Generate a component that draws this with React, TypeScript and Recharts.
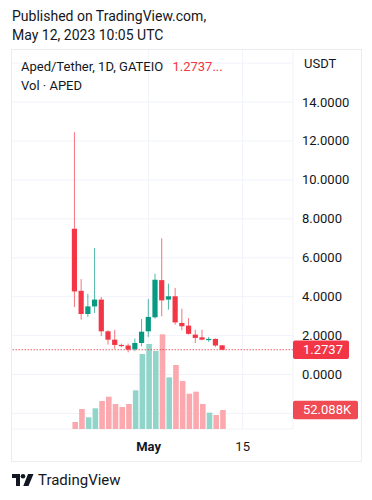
import React from 'react';
import { ComposedChart, Bar, Cell, XAxis, YAxis, CartesianGrid, ReferenceLine } from 'recharts';

// daily slots shown on the time axis
const days = [
  'Apr 11', 'Apr 12', 'Apr 13', 'Apr 14', 'Apr 15', 'Apr 16', 'Apr 17', 'Apr 18', 'Apr 19', 'Apr 20',
  'Apr 21', 'Apr 22', 'Apr 23', 'Apr 24', 'Apr 25', 'Apr 26', 'Apr 27', 'Apr 28', 'Apr 29', 'Apr 30',
  'May 1', 'May 2', 'May 3', 'May 4', 'May 5', 'May 6', 'May 7', 'May 8', 'May 9', 'May 10',
  'May 11', 'May 12', 'May 13', 'May 14', 'May 15', 'May 16', 'May 17', 'May 18', 'May 19', 'May 20',
  'May 21', 'May 22',
];

// days that have a candle
const candleDays = [
  'Apr 20', 'Apr 21', 'Apr 22', 'Apr 23', 'Apr 24', 'Apr 25', 'Apr 26', 'Apr 27', 'Apr 28', 'Apr 29',
  'Apr 30', 'May 1', 'May 2', 'May 3', 'May 4', 'May 5', 'May 6', 'May 7', 'May 8', 'May 9',
  'May 10', 'May 11', 'May 12',
];

const opens = [7.49, 4.3, 3.11, 3.5, 3.85, 2.22, 1.79, 1.52, 1.49, 1.3, 1.62, 2.22, 2.94, 4.85, 3.85, 4.02, 2.65, 2.51, 2.05, 1.91, 1.79, 1.83, 1.5];
const highs = [12.45, 4.9, 4.15, 6.5, 3.98, 2.27, 2.3, 1.59, 1.59, 1.85, 2.85, 3.88, 5.18, 7.0, 4.67, 4.45, 3.38, 2.9, 2.3, 2.3, 1.93, 1.85, 1.52];
const lows = [3.47, 2.82, 2.96, 3.16, 1.97, 1.54, 1.32, 1.4, 1.14, 1.2, 1.45, 1.93, 2.87, 2.99, 3.33, 2.56, 2.27, 2.05, 1.62, 1.76, 1.68, 1.42, 1.25];
const closes = [4.27, 3.11, 3.5, 3.85, 2.22, 1.79, 1.52, 1.5, 1.28, 1.62, 2.2, 2.96, 4.87, 3.81, 4.02, 2.68, 2.48, 2.09, 1.88, 1.79, 1.83, 1.49, 1.2737];
// volume in thousands of APED
const volumes = [19.2, 54.8, 32, 56.7, 76.7, 88.6, 68.5, 60.3, 68.5, 106, 205.6, 233, 213.8, 259.5, 141.6, 175.4, 131.6, 96.8, 102.3, 68.5, 44.8, 38.4, 52.088];

const priceTicks = [-2, 0, 2, 4, 6, 8, 10, 12, 14, 16];
const timeTicks = ['May 1', 'May 15'];
const timeLabels: Record<string, string> = { 'May 1': 'May', 'May 15': '15' };

const lastPrice = 1.2737;
const lastVolume = 52.088;

const UP = '#089981';
const DOWN = '#f23645';
const VOL_UP = '#91d5ca';
const VOL_DOWN = '#fba8af';
const TEXT = '#131722';
const FONT = 'Roboto, "Noto Sans", sans-serif';

const rows = days.map((day) => {
  const i = candleDays.indexOf(day);
  if (i < 0) return { day };
  return {
    day,
    open: opens[i],
    high: highs[i],
    low: lows[i],
    close: closes[i],
    range: [lows[i], highs[i]],
    volume: volumes[i],
  };
});

function Candle(props: any) {
  const { x, y, width, height, payload } = props;
  if (!payload || payload.open == null) return null;
  const { open, high, low, close } = payload;
  const top = Math.min(y, y + height);
  const bottom = Math.max(y, y + height);
  const toY = (v: number) => top + ((high - v) / (high - low)) * (bottom - top);
  const color = close >= open ? UP : DOWN;
  const cx = x + width / 2;
  const bodyTop = toY(Math.max(open, close));
  const bodyBottom = toY(Math.min(open, close));
  return (
    <g>
      <line x1={cx} x2={cx} y1={top} y2={bottom} stroke={color} strokeOpacity={0.7} strokeWidth={1} />
      <rect x={cx - 2.6} width={5.2} y={bodyTop} height={Math.max(1.2, bodyBottom - bodyTop)} fill={color} />
    </g>
  );
}

function PriceTick(props: any) {
  const { y, payload } = props;
  const v = payload.value;
  const label = v === 16 ? 'USDT' : v < 0 ? '' : v.toFixed(4);
  return (
    <text x={v === 16 ? 293 : 291} y={y} dy={4.5} fontSize={13} fill={TEXT} textAnchor="start" fontFamily={FONT}>
      {label}
    </text>
  );
}

function TimeTick(props: any) {
  const { x, payload } = props;
  const bold = payload.value === 'May 1';
  return (
    <text x={x} y={401.5} fontSize={13} fill={TEXT} textAnchor="middle" fontWeight={bold ? 700 : 400} fontFamily={FONT}>
      {timeLabels[payload.value]}
    </text>
  );
}

function PriceBadge(color: string, text: string, w: number) {
  return (props: any) => {
    const vb = props.viewBox || {};
    const left = vb.x + vb.width;
    return (
      <g>
        <rect x={left} y={vb.y - 9.3} width={w} height={18.6} rx={2} fill={color} />
        <text x={left + 10} y={vb.y} dy={4.5} fontSize={13} fill="#ffffff" fontFamily={FONT}>
          {text}
        </text>
      </g>
    );
  };
}

function Logo() {
  return (
    <svg width={22} height={12} viewBox="0 0 22 12">
      <path d="M0 0h8v12H4V4H0z" fill={TEXT} />
      <circle cx={11} cy={2.3} r={2.3} fill={TEXT} />
      <path d="M16 0h5.5l-5 12h-5.2z" fill={TEXT} />
    </svg>
  );
}

export default function App() {
  return (
    <div
      style={{
        position: 'absolute',
        left: 0,
        top: 0,
        width: 372,
        height: 500,
        background: '#ffffff',
        fontFamily: FONT,
        color: TEXT,
      }}
    >
      <div style={{ position: 'absolute', left: 12, top: 7, fontSize: 14, lineHeight: '19px' }}>
        Published on TradingView.com,
        <br />
        May 12, 2023 10:05 UTC
      </div>

      <div style={{ position: 'absolute', left: 11, top: 49 }}>
        <ComposedChart width={351} height={413} data={rows} margin={{ top: 0, right: 0, bottom: 0, left: 0 }}>
          <CartesianGrid yAxisId="price" stroke="#f0f3fa" strokeWidth={1} />
          <XAxis
            dataKey="day"
            ticks={timeTicks}
            interval={0}
            height={33}
            axisLine={false}
            tickLine={false}
            tick={<TimeTick />}
          />
          <XAxis xAxisId="vol" dataKey="day" height={33} hide />
          <YAxis
            yAxisId="price"
            orientation="right"
            type="number"
            domain={[-2.8, 16.727]}
            ticks={priceTicks}
            interval={0}
            width={69}
            axisLine={false}
            tickLine={false}
            tick={<PriceTick />}
            allowDataOverflow
          />
          <YAxis yAxisId="vol" type="number" domain={[0, 1041.6]} hide allowDataOverflow />
          <Bar xAxisId="vol" yAxisId="vol" dataKey="volume" barSize={5.6} isAnimationActive={false}>
            {rows.map((r: any, i) => (
              <Cell key={i} fill={r.close != null && r.close >= r.open ? VOL_UP : VOL_DOWN} />
            ))}
          </Bar>
          <Bar yAxisId="price" dataKey="range" barSize={6} shape={<Candle />} isAnimationActive={false} />
          <ReferenceLine
            yAxisId="price"
            y={lastPrice}
            stroke={DOWN}
            strokeDasharray="1.5 1.5"
            strokeOpacity={0.8}
            label={PriceBadge(DOWN, '1.2737', 56)}
          />
          <ReferenceLine
            xAxisId="vol"
            yAxisId="vol"
            y={lastVolume}
            stroke="none"
            strokeOpacity={0}
            label={PriceBadge('#f04a52', '52.088K', 65)}
          />
        </ComposedChart>
      </div>

      <div
        style={{
          position: 'absolute',
          left: 11,
          top: 49,
          width: 351,
          height: 413,
          boxSizing: 'border-box',
          border: '1px solid #ececef',
          pointerEvents: 'none',
        }}
      />

      <div style={{ position: 'absolute', left: 21, top: 57, fontSize: 13, lineHeight: '19px', whiteSpace: 'nowrap' }}>
        Aped/Tether, 1D, GATEIO <span style={{ color: DOWN, marginLeft: 6 }}>1.2737...</span>
        <br />
        Vol · APED
      </div>

      <div style={{ position: 'absolute', left: 12, top: 471, display: 'flex', alignItems: 'center', gap: 4 }}>
        <Logo />
        <span style={{ fontSize: 15 }}>TradingView</span>
      </div>
    </div>
  );
}
